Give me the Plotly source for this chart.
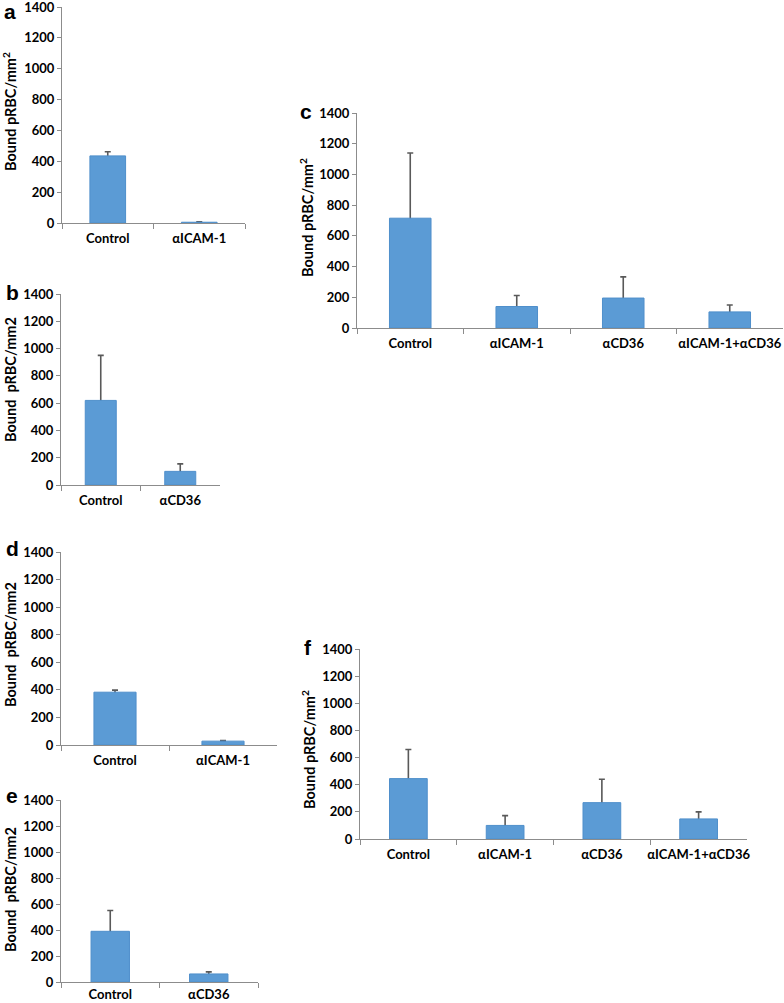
import plotly.graph_objects as go

# ---- data ----
cats_a = ["Control", "αICAM-1"]
vals_a = [435, 5]
err_a = [27, 2]

cats_b = ["Control", "αCD36"]
vals_b = [620, 100]
err_b = [330, 55]

cats_c = ["Control", "αICAM-1", "αCD36", "αICAM-1+αCD36"]
vals_c = [715, 140, 195, 105]
err_c = [425, 72, 138, 45]

cats_d = ["Control", "αICAM-1"]
vals_d = [383, 28]
err_d = [15, 5]

cats_e = ["Control", "αCD36"]
vals_e = [390, 62]
err_e = [160, 16]

cats_f = ["Control", "αICAM-1", "αCD36", "αICAM-1+αCD36"]
vals_f = [445, 100, 268, 148]
err_f = [215, 72, 172, 52]

y_ticks = [0, 200, 400, 600, 800, 1000, 1200, 1400]

W, H = 784, 1003
FONT = "Lato"
BAR = "#5B9BD5"
BAR_EDGE = "#4F8FCB"
ERR = "#595959"
AXIS = "#8C8C8C"

# panel layout in pixels: (x0, x1, ytop, ybottom), label standoff
panels = [
    ("a", cats_a, vals_a, err_a, (62, 245, 7, 223), "Bound pRBC/mm<sup>2</sup>", (10, 112), (10, 11), 3),
    ("b", cats_b, vals_b, err_b, (61, 220, 294, 485), "Bound  pRBC/mm2", (10, 380), (12, 292), 3),
    ("c", cats_c, vals_c, err_c, (357, 783, 113, 328), "Bound pRBC/mm<sup>2</sup>", (306, 218), (306, 112), 3),
    ("d", cats_d, vals_d, err_d, (61, 277, 552, 745), "Bound  pRBC/mm2", (10, 645), (12, 548), 3),
    ("e", cats_e, vals_e, err_e, (61, 258, 800, 982), "Bound  pRBC/mm2", (10, 890), (12, 795), 0),
    ("f", cats_f, vals_f, err_f, (360, 747, 649, 839), "Bound pRBC/mm<sup>2</sup>", (308, 750), (308, 647), 3),
]
NP = len(panels)

def ax_key(kind, n):
    return f"{kind}axis" if n == 1 else f"{kind}axis{n}"

def ax_ref(kind, n):
    return kind if n == 1 else f"{kind}{n}"

fig = go.Figure()
annotations = []
layout_axes = {}
for i, (letter, cats, vals, errs, box, ytitle, tpos, lpos, standoff) in enumerate(panels):
    n = i + 1
    m = n + NP  # overlay y axis index for bars (drawn above the error bars)
    xa, ya, yo = ax_ref("x", n), ax_ref("y", n), ax_ref("y", m)

    # error bars on the base subplot: lower half hidden behind the opaque bars
    fig.add_trace(go.Scatter(
        x=cats, y=vals, xaxis=xa, yaxis=ya, mode="markers",
        marker=dict(size=1, opacity=0),
        error_y=dict(type="data", array=errs, color=ERR, thickness=1.6, width=3),
        showlegend=False, hoverinfo="skip",
    ))
    # bars on the overlaying subplot
    fig.add_trace(go.Bar(
        x=cats, y=vals, xaxis=xa, yaxis=yo, width=0.39,
        marker=dict(color=BAR, line=dict(color=BAR_EDGE, width=1)),
        showlegend=False, hoverinfo="x+y",
    ))

    x0, x1, yt, yb = box
    tickfont_x = dict(family=FONT, size=13, color="#000", weight="bold")
    tickfont_y = dict(family=FONT, size=13, color="#000", weight="bold")
    layout_axes[ax_key("x", n)] = dict(
        domain=[x0 / W, x1 / W], anchor=ya, type="category",
        showline=True, linecolor=AXIS, linewidth=1,
        ticks="outside", tickson="boundaries", ticklen=5, tickcolor=AXIS,
        tickfont=tickfont_x, tickangle=0, automargin=False, ticklabeloverflow="allow",
        ticklabelstandoff=standoff,
        showgrid=False, zeroline=False, range=[-0.5, len(cats) - 0.5], fixedrange=True)
    layout_axes[ax_key("y", n)] = dict(
        domain=[1 - yb / H, 1 - yt / H], anchor=xa,
        range=[0, 1400], tickvals=y_ticks,
        showline=True, linecolor=AXIS, linewidth=1,
        ticks="outside", ticklen=4, tickcolor=AXIS,
        tickfont=tickfont_y, automargin=False, ticklabeloverflow="allow",
        showgrid=False, zeroline=False, fixedrange=True)
    layout_axes[ax_key("y", m)] = dict(
        overlaying=ya, anchor=xa, range=[0, 1400], visible=False,
        showgrid=False, zeroline=False, automargin=False, fixedrange=True)

    annotations.append(dict(text=ytitle, x=tpos[0] / W, y=1 - tpos[1] / H, xref="paper", yref="paper",
                            textangle=-90, showarrow=False, xanchor="center", yanchor="middle",
                            font=dict(family=FONT, size=14.5, color="#000", weight="bold")))
    annotations.append(dict(text=letter, x=lpos[0] / W, y=1 - lpos[1] / H, xref="paper", yref="paper",
                            showarrow=False, xanchor="center", yanchor="middle",
                            font=dict(family="Liberation Sans", size=21, color="#000", weight="bold")))

fig.update_layout(**layout_axes)
fig.update_layout(width=W, height=H, margin=dict(l=0, r=0, t=0, b=0, autoexpand=False),
                  paper_bgcolor="white", plot_bgcolor="white",
                  annotations=annotations)
fig.write_html("out.html", config={"displayModeBar": False},
               post_script="document.body.style.margin='0px';")
